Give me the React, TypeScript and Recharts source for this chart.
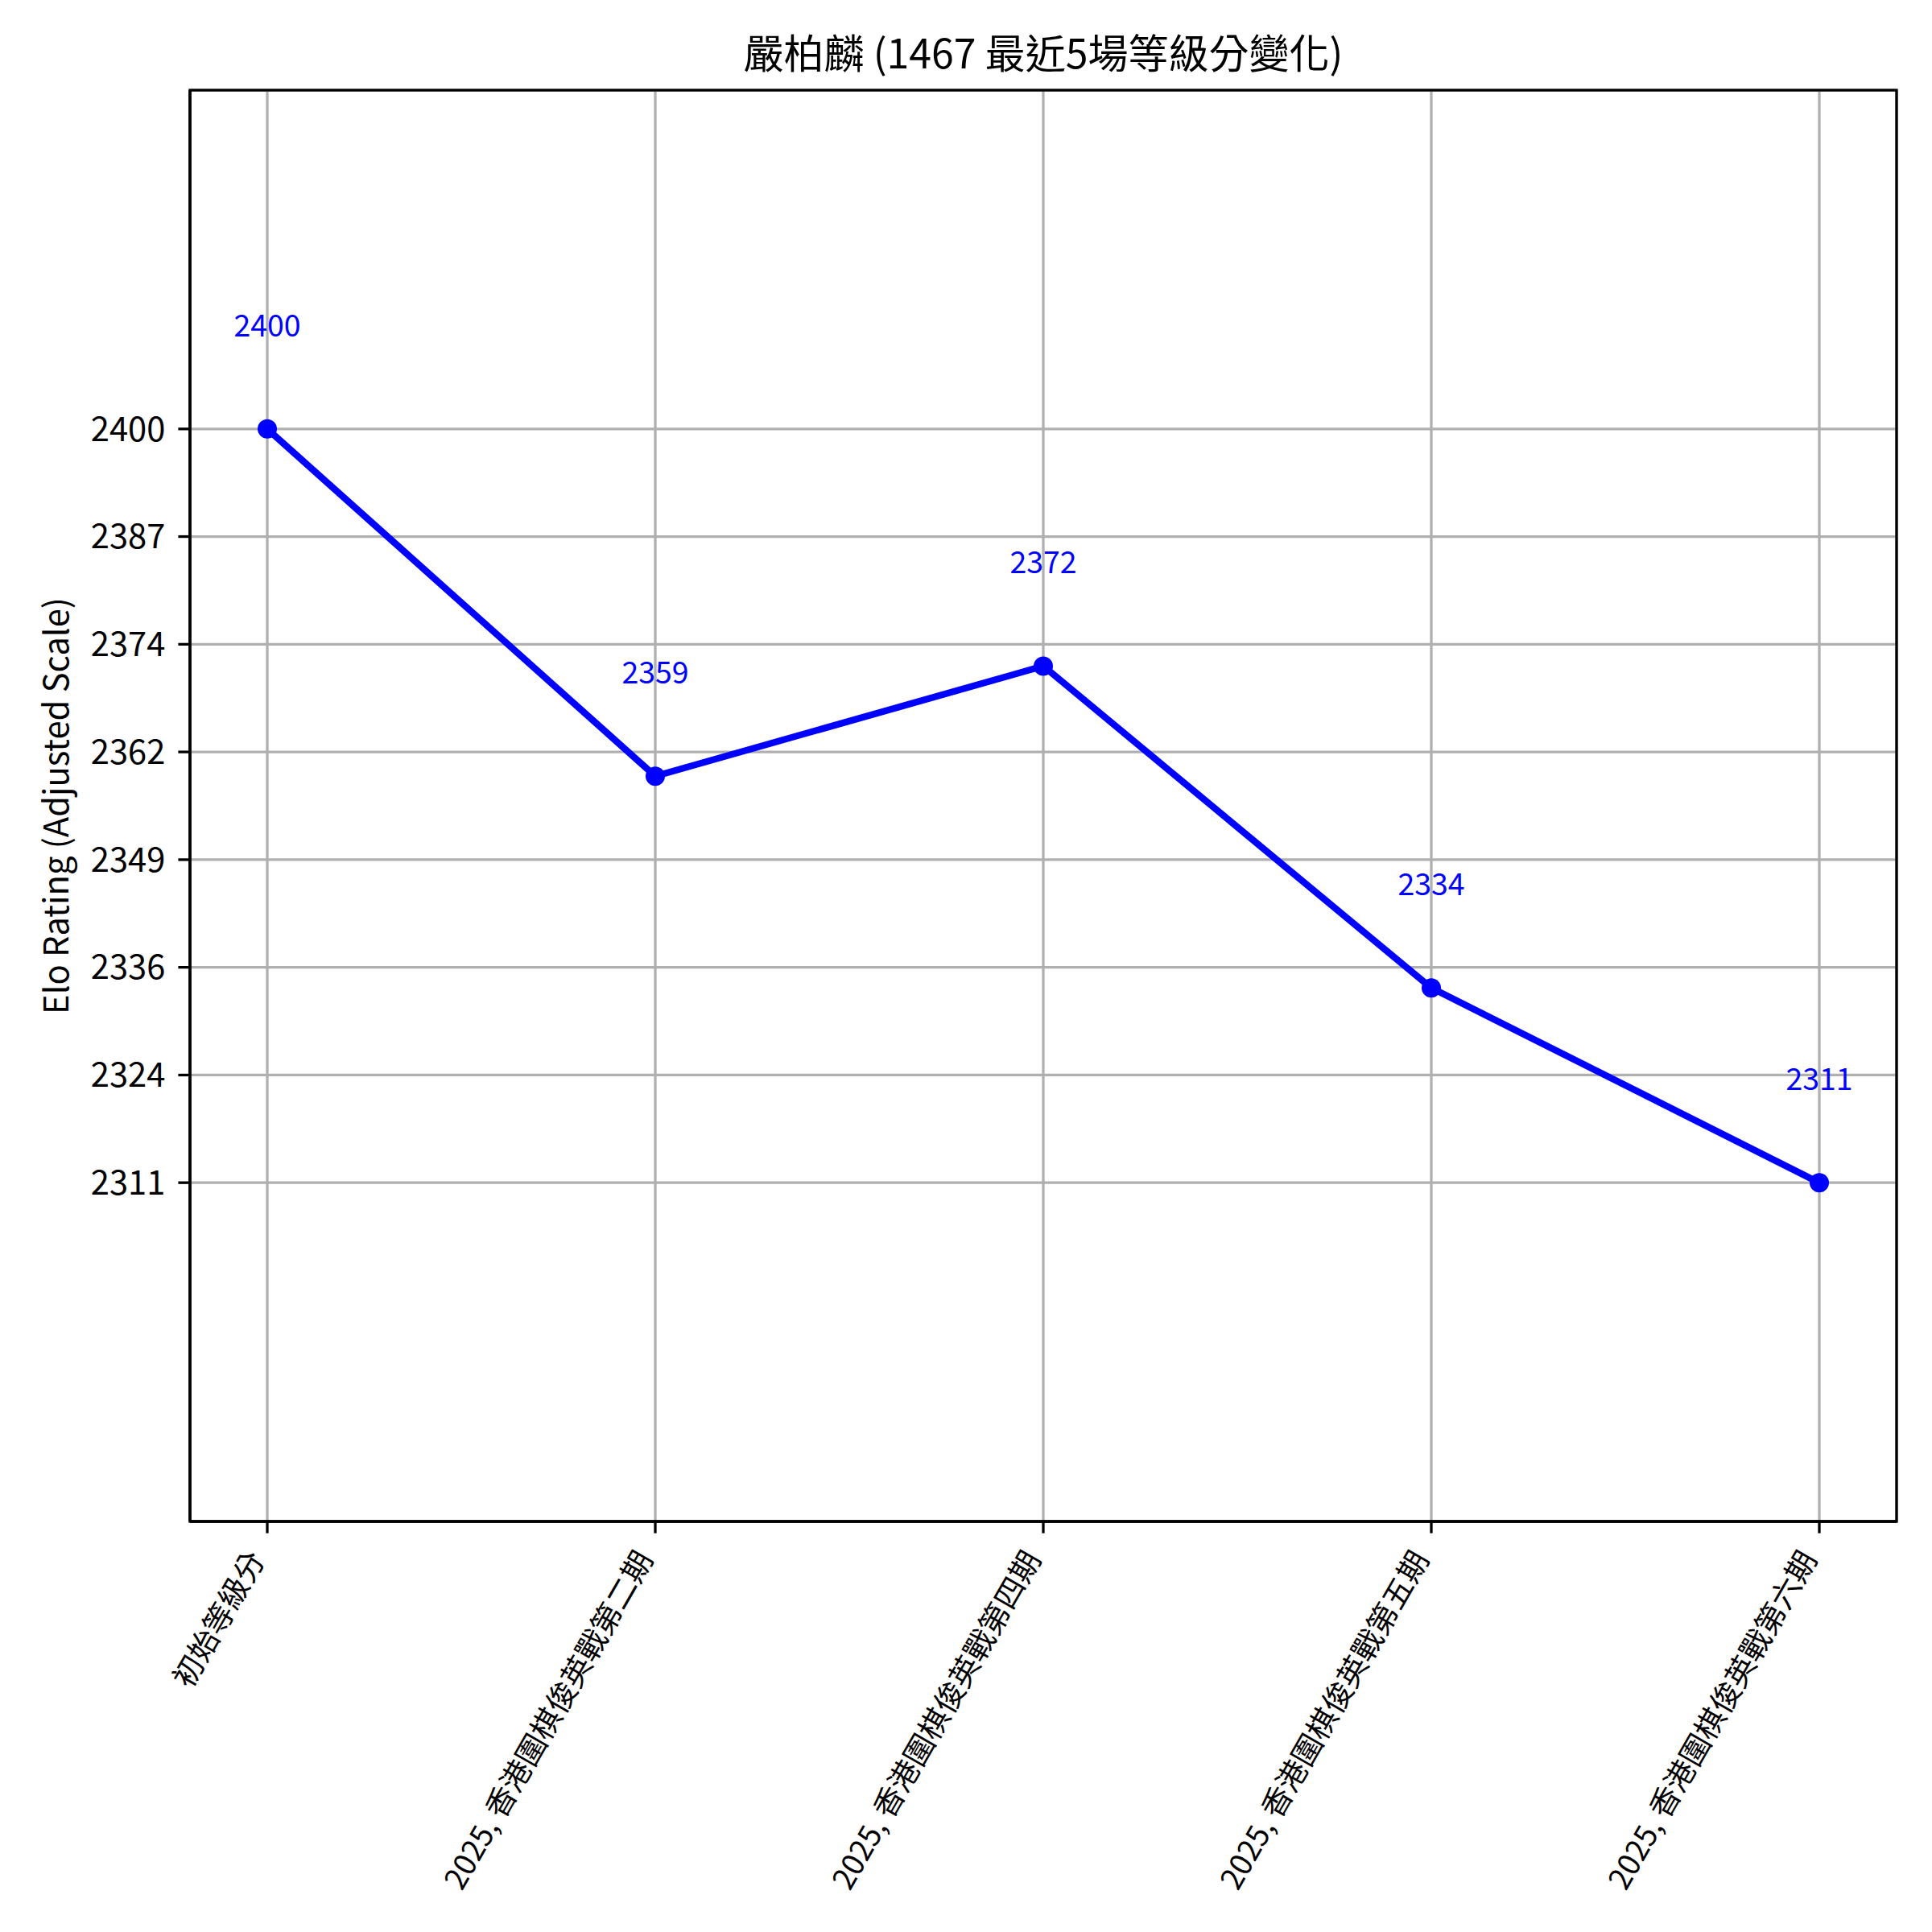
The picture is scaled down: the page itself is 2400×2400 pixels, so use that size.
import { LineChart, Line, XAxis, YAxis, CartesianGrid, LabelList, Customized } from "recharts";

const categories = [
  "初始等級分",
  "2025, 香港圍棋俊英戰第二期",
  "2025, 香港圍棋俊英戰第四期",
  "2025, 香港圍棋俊英戰第五期",
  "2025, 香港圍棋俊英戰第六期",
];
const ratings = [2400, 2359, 2372, 2334, 2311];
const yTicks = [2311, 2323.71, 2336.43, 2349.14, 2361.86, 2374.57, 2387.29, 2400];
const yTickLabels = ["2311", "2324", "2336", "2349", "2362", "2374", "2387", "2400"];
const yDomain = [2271, 2440];
const title = "嚴柏麟 (1467 最近5場等級分變化)";
const yLabel = "Elo Rating (Adjusted Scale)";

const FONT = '"Noto Sans CJK TC", "Noto Sans", sans-serif';

const data = categories.map((name, i) => ({ name, rating: ratings[i] }));

const XTick = ({ x, y, payload }: any) => (
  <text
    x={0}
    y={0}
    transform={`translate(${x - 16},${y + 22}) rotate(-60)`}
    textAnchor="end"
    dominantBaseline="central"
    fontSize={37.5}
    fontFamily={FONT}
    fill="#000"
  >
    {payload.value}
  </text>
);

const ValueLabel = ({ x, y, value }: any) => (
  <text x={x} y={y - 115} textAnchor="middle" fontSize={37.5} fontFamily={FONT} fill="#0000ff">
    {value}
  </text>
);

const Decorations = () => (
  <g>
    <text x={1296} y={85} textAnchor="middle" fontSize={50} fontFamily={FONT} fill="#000">
      {title}
    </text>
    <text
      x={0}
      y={0}
      transform="translate(85,1001) rotate(-90)"
      textAnchor="middle"
      fontSize={41.7}
      fontFamily={FONT}
      fill="#000"
    >
      {yLabel}
    </text>
    {/* frame (top/right spines) */}
    <rect x={236} y={112} width={2120} height={1778} fill="none" stroke="#000" strokeWidth={3.3} />
  </g>
);

export default function App() {
  return (
    <div style={{ position: "absolute", left: 0, top: 0, background: "#fff" }}>
      <LineChart
        width={2400}
        height={2400}
        data={data}
        margin={{ top: 112, right: 44, bottom: 110, left: 106 }}
      >
        <CartesianGrid stroke="#b0b0b0" strokeWidth={3.3} />
        <XAxis
          dataKey="name"
          scale="point"
          padding={{ left: 96, right: 96 }}
          height={400}
          interval={0}
          tick={<XTick />}
          tickSize={14.6}
          tickLine={{ stroke: "#000", strokeWidth: 3.3 }}
          axisLine={{ stroke: "#000", strokeWidth: 3.3 }}
        />
        <YAxis
          width={130}
          domain={yDomain}
          ticks={yTicks}
          type="number"
          allowDataOverflow
          interval={0}
          tickFormatter={(v: number) => yTickLabels[yTicks.indexOf(v)] ?? String(Math.round(v))}
          tick={{ fontSize: 41.7, fontFamily: FONT, fill: "#000" }}
          tickSize={14.6}
          tickMargin={16}
          tickLine={{ stroke: "#000", strokeWidth: 3.3 }}
          axisLine={{ stroke: "#000", strokeWidth: 3.3 }}
        />
        <Line
          type="linear"
          dataKey="rating"
          stroke="#0000ff"
          strokeWidth={8.3}
          dot={{ r: 12, fill: "#0000ff", stroke: "none" }}
          activeDot={false}
          isAnimationActive={false}
        >
          <LabelList dataKey="rating" content={<ValueLabel />} />
        </Line>
        <Customized component={Decorations} />
      </LineChart>
    </div>
  );
}
